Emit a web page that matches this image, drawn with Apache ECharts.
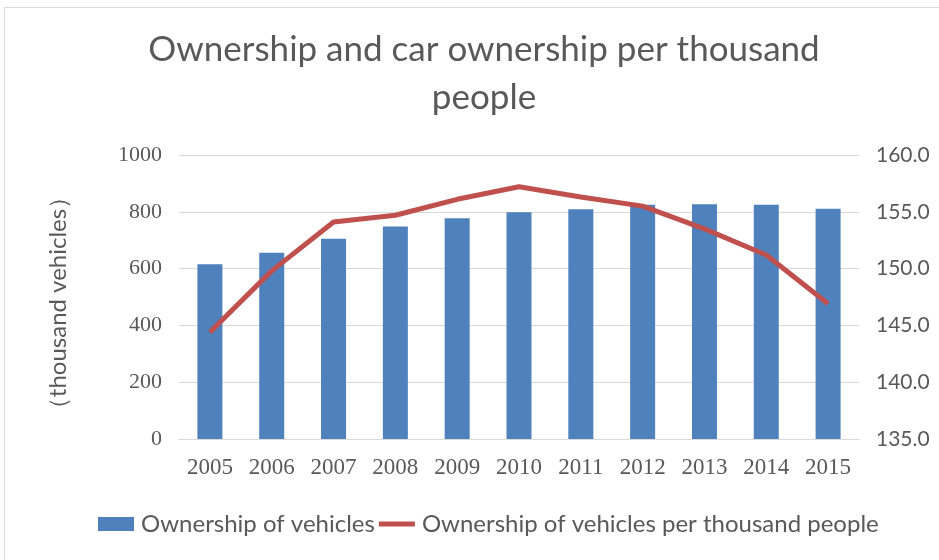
<!DOCTYPE html>
<html>
<head>
<meta charset="utf-8">
<script src="https://cdn.jsdelivr.net/npm/echarts@6/dist/echarts.min.js"></script>
<style>
  html, body { margin: 0; padding: 0; background: #fff; }
  #frame { position: absolute; left: 4px; top: 7px; width: 960px; height: 600px; border: 1px solid #d9d9d9; box-sizing: border-box; }
  #chart { position: absolute; left: 0; top: 0; width: 939px; height: 560px; }
</style>
</head>
<body>
<div id="frame"></div>
<div id="chart"></div>
<script>
const years = ['2005','2006','2007','2008','2009','2010','2011','2012','2013','2014','2015'];
const vehicles = [615, 656, 705, 748, 777, 798, 809, 825, 827, 825, 811];
const perThousand = [144.4, 149.8, 154.1, 154.7, 156.1, 157.2, 156.3, 155.5, 153.5, 151.2, 146.9];
const leftTicks = { min: 0, max: 1000, interval: 200 };
const rightTicks = { min: 135, max: 160, interval: 5 };
const leftAxisName = '（thousand vehicles）';

const chart = echarts.init(document.getElementById('chart'));
const grey = '#595959';
chart.setOption({
  animation: false,
  backgroundColor: 'transparent',
  title: {
    text: 'Ownership and car ownership per thousand\npeople',
    left: 479, top: 21, textAlign: 'center',
    textStyle: { fontFamily: 'Lato', fontSize: 35, fontWeight: 'normal', color: grey, lineHeight: 48 }
  },
  legend: {
    bottom: 19, left: 93, itemGap: 4, itemWidth: 36, itemHeight: 14,
    textStyle: { fontFamily: 'Lato', fontSize: 24, color: grey, padding: [0, 0, 0, 2] },
    data: [
      { name: 'Ownership of vehicles', icon: 'rect' },
      { name: 'Ownership of vehicles per thousand people', icon: 'path://M0,0h36v5h-36z' }
    ]
  },
  // rotated title for the left value axis
  graphic: [{
    type: 'text', x: 58, y: 303, rotation: Math.PI / 2,
    style: {
      text: leftAxisName, fill: grey, font: '24px Lato',
      textAlign: 'center', textVerticalAlign: 'middle'
    }
  }],
  grid: { left: 179, right: 80, top: 155, bottom: 121 },
  xAxis: {
    type: 'category', data: years,
    axisLine: { lineStyle: { color: '#d9d9d9', width: 1 } },
    axisTick: { show: false },
    axisLabel: { fontFamily: 'Liberation Serif', fontSize: 23, color: grey, margin: 17 }
  },
  yAxis: [{
    type: 'value', min: leftTicks.min, max: leftTicks.max, interval: leftTicks.interval,
    axisLine: { show: false }, axisTick: { show: false },
    splitLine: { lineStyle: { color: '#d9d9d9', width: 1 } },
    axisLabel: { fontFamily: 'Liberation Serif', fontSize: 22, color: grey, margin: 17,
      formatter: v => String(v) }
  }, {
    type: 'value', min: rightTicks.min, max: rightTicks.max, interval: rightTicks.interval,
    position: 'right',
    axisLine: { show: false }, axisTick: { show: false }, splitLine: { show: false },
    axisLabel: { fontFamily: 'Lato', fontSize: 21, color: grey, margin: 17,
      formatter: v => v.toFixed(1) }
  }],
  series: [{
    name: 'Ownership of vehicles', type: 'bar', yAxisIndex: 0,
    data: vehicles, barWidth: 25,
    itemStyle: { color: '#4f81bd' }
  }, {
    name: 'Ownership of vehicles per thousand people', type: 'line', yAxisIndex: 1,
    data: perThousand, symbol: 'none',
    lineStyle: { color: '#c0504d', width: 5 },
    itemStyle: { color: '#c0504d' }
  }]
});
</script>
</body>
</html>
